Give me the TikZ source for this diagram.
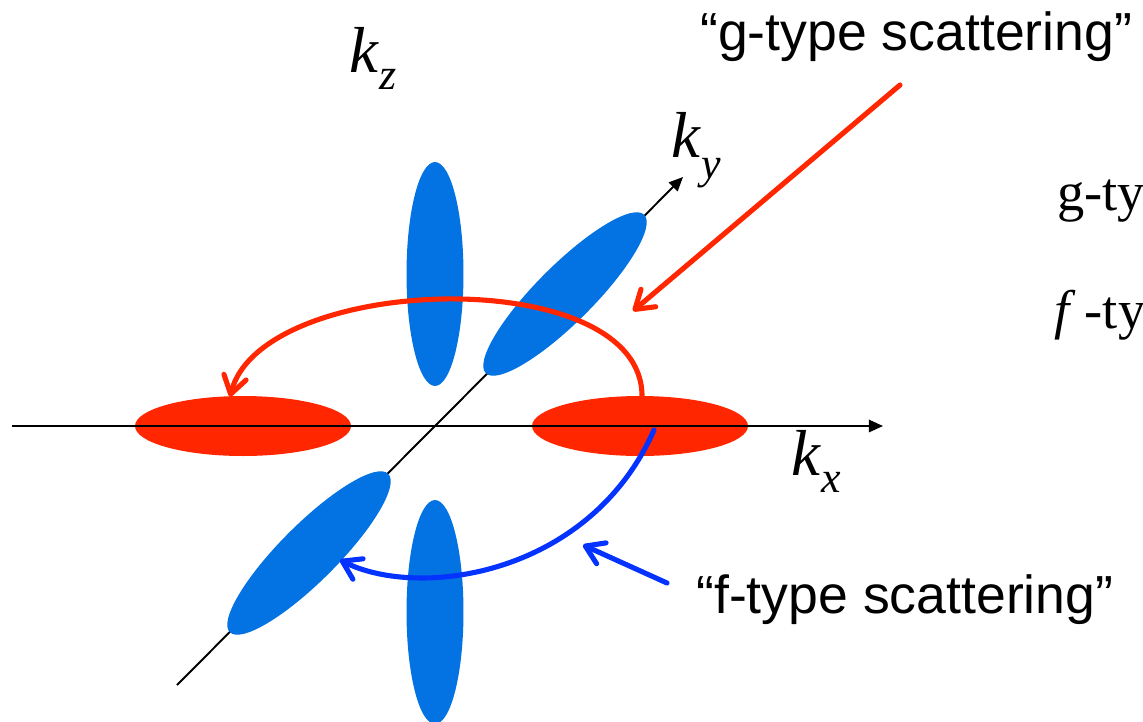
\documentclass[tikz,border=0pt]{standalone}
\usepackage{fontspec}
\setmainfont{Liberation Serif}
\setsansfont{Liberation Sans}
\usepackage{tikz}
\usetikzlibrary{shapes.geometric, arrows.meta, calc}
\definecolor{ScatRed}{RGB}{255, 38, 0}
\definecolor{ScatBlue}{RGB}{4, 51, 255}
\definecolor{PocketBlue}{RGB}{3, 115, 227}

\newcommand{\kvec}[2]{\textit{k}\raisebox{-#2}{\fontsize{25}{25}\selectfont\textit{#1}}}

\begin{document}
\begin{tikzpicture}[x=0.02cm, y=-0.02cm,
  pocket/.style={ellipse, fill=PocketBlue, inner sep=0pt,
    minimum width=4.48cm, minimum height=1.14cm},
  hpocket/.style={ellipse, fill=ScatRed, inner sep=0pt,
    minimum width=4.32cm, minimum height=1.2cm},
  axis/.style={-{Triangle[length=8pt, width=7pt]}, line width=1.1pt},
  garr/.style={-{Straight Barb[length=10pt, width=13pt, round]}, ScatRed,
    line width=2.9pt, line cap=round},
  farr/.style={-{Straight Barb[length=10pt, width=13pt, round]}, ScatBlue,
    line width=2.9pt, line cap=round},
  klabel/.style={font=\fontsize{37}{37}\selectfont, inner sep=0pt, anchor=base west},
  quote/.style={font=\sffamily\fontsize{30.5}{30.5}\selectfont, inner sep=0pt, anchor=base west},
  note/.style={font=\fontsize{31}{31}\selectfont, inner sep=0pt, anchor=base west}
]
\useasboundingbox (0,0) rectangle (1143,721);

% Red pockets on k_x
\node[hpocket] (redL) at (243,426) {};
\node[hpocket] (redR) at (640,426) {};

% Axes
\coordinate (xstart) at (12,426);
\coordinate (xend)   at (883,426);
\coordinate (ystart) at (177,685);
\coordinate (yend)   at (683,177);
\draw[axis] (xstart) -- (xend);
\draw[axis] (ystart) -- (yend);

% Blue pockets
\node[pocket, rotate=90] (vUp) at (435,274) {};
\node[pocket, rotate=90] (vDn) at (435,612) {};
\node[pocket, rotate=45] (dUp) at (565,294) {};
\node[pocket, rotate=45] (dDn) at (309,553) {};

% Scattering paths
\draw[garr] ($(redR.north)+(2,2)$) .. controls (645,262) and (262,272) .. ($(redL.north)+(-13,1)$);
\draw[farr] ($(redR.center)+(14,4)$) .. controls (590,575) and (420,600) .. ($(dDn.center)+(31,7)$);

% Pointers from the labels
\coordinate (gtail) at (900,85);
\coordinate (gtip)  at (633,311);
\coordinate (ftail) at (667,583);
\coordinate (ftip)  at (583,545);
\draw[garr] (gtail) -- (gtip);
\draw[farr] (ftail) -- (ftip);

% Labels
\node[klabel] (kz) at (349,72)  {\kvec{z}{10pt}};
\node[klabel] (ky) at (671,157) {\kvec{y}{12pt}};
\node[klabel] (kx) at (791,475) {\kvec{x}{10pt}};
\node[quote] (gname) at (700,50)  {“g-type scattering”};
\node[quote] (fname) at (696,613) {“f-type scattering”};
\node[note] (gnote) at (1057,210) {g-ty};
\node[note] (fnote) at (1054,328) {\textit{f}\,-ty};
\end{tikzpicture}
\end{document}
